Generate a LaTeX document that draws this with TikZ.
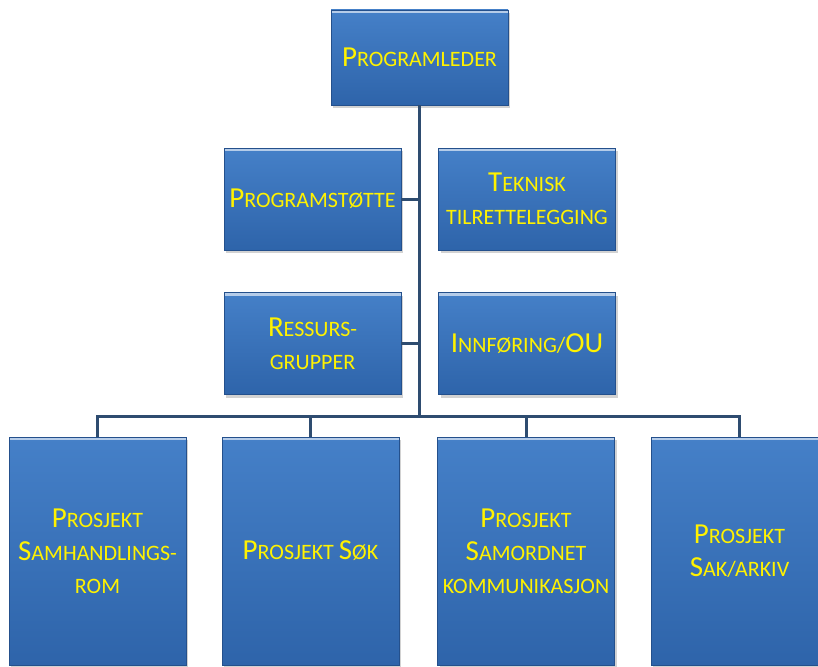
\documentclass[tikz,border=0pt]{standalone}
\usepackage{fontspec}
\setmainfont{Carlito}
\usepackage{tikz}
\usetikzlibrary{shadows}
\definecolor{boxtop}{HTML}{4580C8}
\definecolor{boxbot}{HTML}{2E64AA}
\definecolor{boxedge}{HTML}{24508C}
\definecolor{linkcol}{HTML}{2E4C70}
\newcommand{\capl}[1]{{\fontsize{29}{33}\selectfont #1}}
\tikzstyle{unit} = [rectangle, minimum width=177pt, minimum height=102pt, align=center, text=yellow, font=\fontsize{22}{33}\selectfont, top color=boxtop, bottom color=boxbot, draw=boxedge, line width=0.8pt, drop shadow={shadow xshift=2pt, shadow yshift=-3pt, fill=black!35, opacity=0.5}, path picture={\draw[white!60!boxtop, line width=3pt] ([yshift=-1.5pt]path picture bounding box.north west) -- ([yshift=-1.5pt]path picture bounding box.north east);}]
\tikzstyle{project} = [unit, minimum height=228pt]
\tikzstyle{link} = [line width=3pt, draw=linkcol]

\begin{document}
\begin{tikzpicture}[x=1pt, y=-1pt]
    \useasboundingbox (0,0) rectangle (818,666);
    \clip (0,0) rectangle (818,666);
    \node (leder) [unit, minimum height=95pt] at (419.5,57.5) {\capl{P}ROGRAMLEDER};
    \node (stotte) [unit] at (312.5,199) {\capl{P}ROGRAMSTØTTE};
    \node (teknisk) [unit] at (527,199) {\capl{T}EKNISK\\TILRETTELEGGING};
    \node (ressurs) [unit] at (312.5,343.5) {\capl{R}ESSURS-\\GRUPPER};
    \node (innf) [unit] at (527,343.5) {\capl{I}NNFØRING/\capl{OU}};
    \coordinate (hub) at (419.5,416);
    \node (samh) [project] at (97.5,551) {\capl{P}ROSJEKT\\\capl{S}AMHANDLINGS-\\ROM};
    \node (sok) [project] at (310.5,551) {\capl{P}ROSJEKT \capl{S}ØK};
    \node (komm) [project] at (526,551) {\capl{P}ROSJEKT\\\capl{S}AMORDNET\\KOMMUNIKASJON};
    \node (arkiv) [project] at (739.5,551) {\capl{P}ROSJEKT\\\capl{S}AK/ARKIV};
    \draw [link] (leder.south) -- (hub);
    \draw [link] (stotte.east) -- (stotte.east -| hub);
    \draw [link] (ressurs.east) -- (ressurs.east -| hub);
    \draw [link] (hub) -| (samh.north);
    \draw [link] (hub) -| (sok.north);
    \draw [link] (hub) -| (komm.north);
    \draw [link] (hub) -| (arkiv.north);
\end{tikzpicture}
\end{document}
